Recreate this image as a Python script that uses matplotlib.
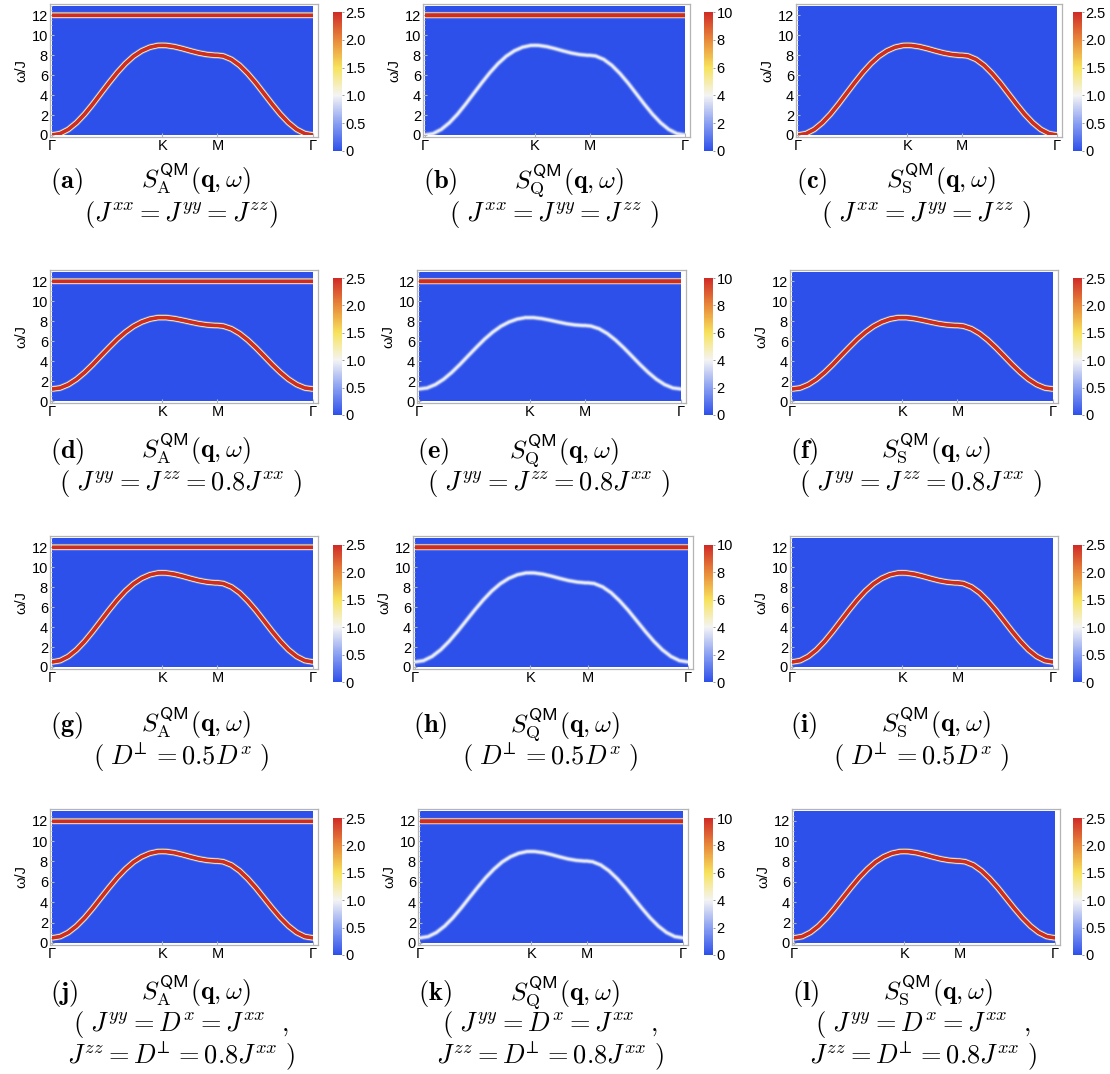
import numpy as np
import matplotlib
matplotlib.use("Agg")
import matplotlib.pyplot as plt
from matplotlib.colors import LinearSegmentedColormap, Normalize
from matplotlib.cm import ScalarMappable
from matplotlib.patches import Rectangle

plt.rcParams['font.family'] = ['Liberation Sans', 'DejaVu Sans']
plt.rcParams['mathtext.fontset'] = 'cm'

# momentum along the Γ-K-M-Γ path, as a fraction of the total path length
q_path = [0.0, 0.03125, 0.0625, 0.09375, 0.125, 0.15625, 0.1875, 0.21875,
          0.25, 0.28125, 0.3125, 0.34375, 0.375, 0.40625, 0.4226,
          0.4375, 0.46875, 0.5, 0.53125, 0.5625, 0.59375, 0.625, 0.6339,
          0.65625, 0.6875, 0.71875, 0.75, 0.78125, 0.8125, 0.84375, 0.875,
          0.90625, 0.9375, 0.96875, 1.0]

# magnon branch omega/J for each coupling set (one per row)
omega_iso = [0.00, 0.14, 0.56, 1.23, 2.09, 3.10, 4.18, 5.25, 6.27, 7.17, 7.91,
             8.45, 8.81, 8.99, 9.00, 8.99, 8.87, 8.67, 8.44, 8.23, 8.08, 8.00,
             8.00, 7.93, 7.59, 6.99, 6.17, 5.21, 4.15, 3.09, 2.09, 1.23, 0.56,
             0.14, 0.00]
omega_jyz = [1.20, 1.31, 1.65, 2.18, 2.87, 3.67, 4.53, 5.38, 6.20, 6.91, 7.50,
             7.93, 8.22, 8.37, 8.37, 8.37, 8.27, 8.11, 7.93, 7.76, 7.64, 7.58,
             7.58, 7.52, 7.25, 6.77, 6.12, 5.35, 4.51, 3.66, 2.87, 2.18, 1.65,
             1.31, 1.20]
omega_dperp = [0.50, 0.64, 1.06, 1.72, 2.58, 3.58, 4.65, 5.72, 6.73, 7.63, 8.36,
               8.90, 9.26, 9.44, 9.45, 9.44, 9.32, 9.12, 8.89, 8.68, 8.53, 8.45,
               8.45, 8.38, 8.04, 7.45, 6.63, 5.68, 4.63, 3.57, 2.58, 1.72, 1.06,
               0.64, 0.50]
omega_mixed = [0.50, 0.63, 1.03, 1.66, 2.47, 3.42, 4.44, 5.45, 6.41, 7.25, 7.95,
               8.46, 8.80, 8.97, 8.98, 8.97, 8.86, 8.67, 8.45, 8.25, 8.11, 8.04,
               8.04, 7.97, 7.65, 7.08, 6.31, 5.41, 4.41, 3.41, 2.47, 1.66, 1.03,
               0.63, 0.50]
row_omegas = [omega_iso, omega_jyz, omega_dperp, omega_mixed]

omega_flat = 12.0
omega_max = 13.0

sym_q = [0.0, 0.4226, 0.6339, 1.0]
sym_names = ['Γ', 'K', 'M', 'Γ']

# per column: A, Q, S channels
channels = ['A', 'Q', 'S']
cbar_max = [2.5, 10.0, 2.5]
cbar_ticks = [[0, 0.5, 1.0, 1.5, 2.0, 2.5], [0, 2, 4, 6, 8, 10],
              [0, 0.5, 1.0, 1.5, 2.0, 2.5]]
cbar_labels = [['0', '0.5', '1.0', '1.5', '2.0', '2.5'],
               ['0', '2', '4', '6', '8', '10'],
               ['0', '0.5', '1.0', '1.5', '2.0', '2.5']]
branch_peak = [4.0, 4.0, 4.0]
flat_peak = [4.0, 20.0, 0.0]

letters = [['a', 'b', 'c'], ['d', 'e', 'f'], ['g', 'h', 'i'], ['j', 'k', 'l']]
conditions = [
    [[r'$(J^{xx}=J^{yy}=J^{zz})$'], [r'$(\ J^{xx}=J^{yy}=J^{zz}\ )$'],
     [r'$(\ J^{xx}=J^{yy}=J^{zz}\ )$']],
    [[r'$(\ J^{yy}=J^{zz}=0.8J^{xx}\ )$']] * 3,
    [[r'$(\ D^{\!\!\perp}=0.5D^{x}\ )$']] * 3,
    [[r'$(\ J^{yy}=D^{x}=J^{xx}\ \ ,$', r'$J^{zz}=D^{\!\!\perp}=0.8J^{xx}\ )$']] * 3,
]

cmap = LinearSegmentedColormap.from_list('temperature', [
    (0.0, '#2e50ea'), (0.2, '#8aa0f2'), (0.4, '#f4f4f4'),
    (0.6, '#f7e35c'), (0.8, '#e8893a'), (1.0, '#cf2b27')])

W, H = 1110, 1074
fig = plt.figure(figsize=(W / 100, H / 100), dpi=100)

# frame boxes (left, top, right, bottom) in pixels
frames = [
    [(50, 4, 318, 137), (423, 4, 690, 137), (796, 4, 1062, 137)],
    [(50, 270, 318, 403), (417, 270, 686, 403), (790, 270, 1058, 403)],
    [(50, 536, 318, 669), (413, 536, 693, 669), (790, 536, 1058, 669)],
    [(50, 809, 318, 945), (418, 809, 688, 945), (792, 809, 1060, 945)],
]
cbar_x = [333, 704, 1073]
cbar_y = [(12, 151), (278, 415), (545, 682), (818, 955)]
# baselines of caption lines
caption_y = [(188, [221]), (458, [490]), (732, [765]), (1000, [1031, 1064])]


def px_axes(l, t, r, b):
    return fig.add_axes([l / W, 1 - b / H, (r - l) / W, (b - t) / H])


def glow_line(ax, x, y, peak, vmax, clip, sigma_px=2.0):
    # gaussian cross-section drawn as nested strokes
    for f in np.linspace(0.04, 0.96, 18):
        width_px = 2 * sigma_px * np.sqrt(-np.log(f))
        color = cmap(min(peak * f / vmax, 1.0))
        ln, = ax.plot(x, y, color=color, lw=width_px * 0.72,
                      solid_capstyle='butt', solid_joinstyle='round', zorder=2)
        ln.set_clip_path(clip)


for r in range(4):
    for c in range(3):
        l, t, rr, b = frames[r][c]
        ax = px_axes(l, t, rr, b)
        wpx, hpx = rr - l, b - t
        dw = wpx - 7.0
        dh = hpx - 3.5
        ax.set_xlim(-2.0 / dw, 1 + 5.0 / dw)
        ax.set_ylim(-2.0 * omega_max / dh, omega_max + 1.5 * omega_max / dh)

        bg = Rectangle((0, 0), 1, omega_max, facecolor=cmap(0.0),
                       edgecolor='none', zorder=1)
        ax.add_patch(bg)

        vmax = cbar_max[c]
        if flat_peak[c] > 0:
            glow_line(ax, [0, 1], [omega_flat, omega_flat], flat_peak[c], vmax, bg)
        glow_line(ax, q_path, row_omegas[r], branch_peak[c], vmax, bg)

        for s in ax.spines.values():
            s.set_color('#b4b4b4')
            s.set_linewidth(0.9)
        ax.set_xticks(sym_q)
        ax.set_xticklabels(sym_names, fontsize=10.5)
        ax.set_yticks(range(0, 13, 2))
        ax.set_yticklabels([str(v) for v in range(0, 13, 2)], fontsize=10.5)
        ax.set_yticks(np.arange(0, 13.01, 0.5), minor=True)
        ax.tick_params(axis='both', which='major', direction='in', length=3,
                       color='#b4b4b4', pad=1.5)
        ax.tick_params(axis='y', which='minor', direction='in', length=1.5,
                       color='#c8c8c8')
        ax.set_ylabel('ω/J', fontsize=10.5, labelpad=2)

        # colorbar
        y0, y1 = cbar_y[r]
        cx = cbar_x[c]
        cax = px_axes(cx, y0, cx + 9, y1)
        cb = fig.colorbar(ScalarMappable(Normalize(0, vmax), cmap), cax=cax)
        cb.outline.set_visible(False)
        cb.set_ticks(cbar_ticks[c])
        cb.set_ticklabels(cbar_labels[c])
        cax.tick_params(length=1.5, width=0.6, color='#888888', labelsize=10.5, pad=1)

        # captions
        fc = (l + rr) / 2
        ya, ybs = caption_y[r]
        fig.text(l / W, 1 - ya / H, r'$\mathbf{(%s)}$' % letters[r][c],
                 fontsize=19, ha='left', va='baseline')
        fig.text((fc + 12) / W, 1 - ya / H,
                 r'$S^{\mathsf{QM}}_{\mathrm{%s}}(\mathbf{q},\omega)$' % channels[c],
                 fontsize=18.5, ha='center', va='baseline')
        for line, yb in zip(conditions[r][c], ybs):
            fig.text((fc - 3) / W, 1 - yb / H, line, fontsize=19,
                     ha='center', va='baseline')

fig.savefig('out.png', dpi=100)
